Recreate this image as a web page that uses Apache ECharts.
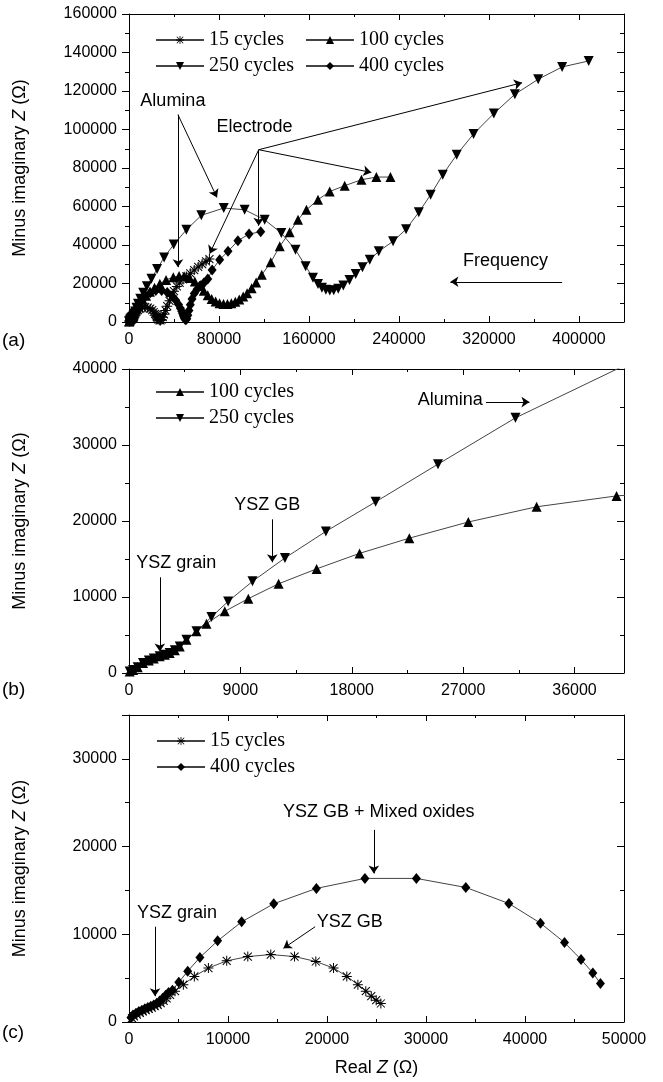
<!DOCTYPE html>
<html>
<head>
<meta charset="utf-8">
<script src="https://cdn.jsdelivr.net/npm/echarts@6/dist/echarts.min.js"></script>
<style>
  html, body { margin: 0; padding: 0; background: #fff; }
  #chart { width: 663px; height: 1082px; }
</style>
</head>
<body>
<div id="chart"></div>
<script>
// ---- data: [Real Z, Minus imaginary Z] in ohm ----
// 15 cycles: YSZ grain + YSZ GB arc (panel c) and alumina tail (panel a)
var arc15 = [[300,450],[500,650],[800,850],[1100,1050],[1400,1200],[1700,1350],[2000,1500],[2300,1650],[2600,1800],[2900,1950],[3200,2150],[3500,2400],[3800,2700],[4150,3100],[4650,3510],[5490,4260],[6600,5200],[8020,6150],[9870,6970],[12000,7460],[14320,7690],[16720,7460],[18870,6900],[20660,6150],[22000,5200],[23120,4260],[23920,3510],[24470,2940],[24970,2490],[25440,2110]];
var tail15 = [[26000,1400],[27000,900],[28000,800],[29000,1300],[30000,2500],[31000,4000],[32500,6000],[34000,8200],[36000,11000],[38000,13500],[40000,16000],[42500,18500],[45000,20300],[48000,22100],[51000,23700],[54500,25300],[58000,27000],[61500,28600],[65000,30100],[68500,31500],[71500,32700]];

// 100 cycles: panel b part and the rest (panel a)
var low100 = [[57,210],[330,400],[700,750],[1130,1320],[1600,1650],[2000,1900],[2480,2190],[2900,2400],[3290,2620],[3700,3000],[4100,3500],[4640,4380],[5450,5480],[6260,6490],[7740,8110],[9640,9780],[12090,11740],[15160,13700],[18630,15740],[22650,17740],[27420,19870],[32940,21870],[39400,23300]];
var tail100 = [[44500,23900],[49000,23800],[54000,22800],[58500,21000],[62500,18800],[66500,16200],[70000,13900],[73500,12000],[77000,10600],[80500,9700],[84000,9300],[87500,9300],[91000,9700],[94500,10500],[98000,11700],[101500,13200],[105000,15000],[109000,17500],[113000,20500],[118000,24500],[126000,31000],[134000,39300],[142800,46600],[150200,53100],[157700,58300],[168000,63500],[178400,67800],[191700,70800],[206600,73900],[219900,75300],[232400,75300]];

// 250 cycles
var low250 = [[57,210],[330,400],[700,750],[1130,1320],[1600,1650],[2000,1900],[2480,2190],[2900,2400],[3290,2620],[3700,3000],[4100,3500],[4640,4380],[5450,5480],[6660,7370],[8010,9420],[9980,12060],[12600,15130],[15910,18630],[19930,22520],[24970,27480],[31230,33570]];
var tail250 = [[39700,40200],[51000,47900],[64300,55400],[84200,59200],[102800,58300],[120600,53100],[135400,46200],[148000,37500],[157000,29000],[163500,23000],[168000,19800],[171500,17800],[175000,16700],[178500,16300],[182000,16500],[186000,17300],[190500,19000],[196000,21800],[201500,25000],[207500,28500],[214000,32300],[222000,36700],[234700,41900],[246300,48200],[257600,57000],[268100,66100],[278900,76500],[291300,86900],[306300,97700],[324300,108300],[343000,118300],[363700,126100],[385000,132500],[408600,135600]];

// 400 cycles: YSZ GB + mixed oxides arc (panel c) and electrode tail (panel a)
var arc400 = [[200,500],[400,800],[700,1000],[1000,1200],[1300,1350],[1600,1500],[1900,1650],[2200,1800],[2500,1950],[2800,2150],[3100,2400],[3400,2700],[3700,3050],[4000,3350],[4390,3620],[5030,4530],[5930,5790],[7160,7350],[8950,9250],[11380,11420],[14620,13480],[18930,15230],[23830,16370],[29030,16370],[34020,15340],[38370,13510],[41560,11270],[43990,9060],[45660,7120],[46850,5600],[47620,4380]];
var tail400 = [[48300,3200],[49000,2200],[49800,1400],[50600,1200],[51400,1700],[52300,3500],[53300,6000],[54500,9000],[56000,12000],[58000,14800],[60500,17000],[63500,18800],[66500,20300],[70000,22300],[73900,27000],[80600,32400],[88000,36700],[96800,42200],[106700,45700],[117100,46900]];

// axes ranges [max, interval] per panel
var xRange = [[440000, 80000], [40000, 9000], [50000, 10000]];
var yRange = [[160000, 20000], [40000, 10000], [35000, 10000]];

// annotation arrows (data coords) and texts
var arrowsA = [[[43500,107700],[43500,28500]],[[43500,107700],[78200,64700]],[[115300,89500],[71700,35500]],[[115300,89500],[115300,50000]],[[115300,89500],[215400,77700]],[[115300,89500],[349400,124300]],[[385000,20900],[285700,20900]]];
var arrowsB = [[[2490,12600],[2490,2830]],[[11580,20220],[11580,14570]],[[28850,35650],[32360,35650]]];
var arrowsC = [[[2630,10860],[2630,2940]],[[18800,10860],[15600,8400]],[[24730,21900],[24730,16940]]];
var notes = [
  [0, "Alumina", 10100, 114600],
  [0, "Electrode", 77700, 101300],
  [0, "Frequency", 296900, 31600],
  [1, "Alumina", 23330, 35870],
  [1, "YSZ GB", 8510, 22090],
  [1, "YSZ grain", 580, 14480],
  [2, "YSZ grain", 800, 12400],
  [2, "YSZ GB", 18970, 11350],
  [2, "YSZ GB + Mixed oxides", 15560, 23900]
];

var asterisk = "path://M9,0L11,0L11,20L9,20Z M0,9L20,9L20,11L0,11Z M1.3,2.7L2.7,1.3L18.7,17.3L17.3,18.7Z M17.3,1.3L18.7,2.7L2.7,18.7L1.3,17.3Z";
var styles = {
  "15 cycles": { symbol: asterisk, symbolSize: 10, rot: 0 },
  "100 cycles": { symbol: "triangle", symbolSize: 10, rot: 0 },
  "250 cycles": { symbol: "triangle", symbolSize: 10, rot: 180 },
  "400 cycles": { symbol: "diamond", symbolSize: [9, 11], rot: 0 }
};

(function() {
  var myChart = echarts.init(document.getElementById("chart"));
  var font = "Liberation Sans";
  var fmt = function(v) { return String(v); };

  var grids = [
    { left: 129, top: 14, width: 495, height: 308 },
    { left: 129, top: 369, width: 495, height: 304 },
    { left: 129, top: 715, width: 495, height: 307 }
  ];

  var xAxes = [], yAxes = [];
  for (var g = 0; g < 3; g++) {
    [false, true].forEach(function(mirror) {
      xAxes.push({
        type: "value", gridIndex: g, min: 0, max: xRange[g][0], interval: xRange[g][1],
        position: mirror ? "top" : "bottom",
        axisLine: { show: true, onZero: false, lineStyle: { color: "#000", width: 1 } },
        axisTick: { show: true, inside: true, length: 6, lineStyle: { color: "#000" } },
        minorTick: { show: true, splitNumber: 2, length: 3, lineStyle: { color: "#000" } },
        splitLine: { show: false },
        axisLabel: { show: !mirror, color: "#000", fontSize: 16, fontFamily: font, margin: 10,
                     showMaxLabel: g === 2, formatter: fmt },
        name: (g === 2 && !mirror) ? "Real {i|Z} (Ω)" : "",
        nameLocation: "middle", nameGap: 37,
        nameTextStyle: { color: "#000", fontSize: 18, fontFamily: font,
                         rich: { i: { fontStyle: "italic", fontSize: 18, fontFamily: font } } }
      });
      yAxes.push({
        type: "value", gridIndex: g, min: 0, max: yRange[g][0], interval: yRange[g][1],
        position: mirror ? "right" : "left",
        axisLine: { show: true, onZero: false, lineStyle: { color: "#000", width: 1 } },
        axisTick: { show: true, inside: mirror, length: 7, lineStyle: { color: "#000" } },
        minorTick: { show: true, splitNumber: 2, length: 4, lineStyle: { color: "#000" } },
        splitLine: { show: false },
        axisLabel: { show: !mirror, color: "#000", fontSize: 16, fontFamily: font, margin: 12,
                     showMaxLabel: g !== 2, formatter: fmt },
        name: mirror ? "" : "Minus imaginary {i|Z} (Ω)",
        nameLocation: "middle", nameGap: 100,
        nameTextStyle: { color: "#000", fontSize: 18, fontFamily: font,
                         rich: { i: { fontStyle: "italic", fontSize: 18, fontFamily: font } } }
      });
    });
  }

  function line(name, g, data, arrows) {
    var st = styles[name];
    var s = {
      name: name, type: "line", xAxisIndex: g * 2, yAxisIndex: g * 2,
      data: data, symbol: st.symbol, symbolSize: st.symbolSize, symbolRotate: st.rot,
      showAllSymbol: true, clip: true,
      itemStyle: { color: "#000" },
      lineStyle: { color: "#444", width: 1 },
      emphasis: { disabled: true }
    };
    if (arrows) {
      s.markLine = {
        silent: true, symbol: ["none", "arrow"], symbolSize: 8,
        lineStyle: { color: "#000", width: 1, type: "solid" },
        label: { show: false }, emphasis: { disabled: true },
        data: arrows.map(function(a) { return [{ coord: a[0] }, { coord: a[1] }]; })
      };
    }
    return s;
  }

  var series = [
    line("15 cycles", 0, arc15.concat(tail15), arrowsA),
    line("100 cycles", 0, low100.concat(tail100)),
    line("250 cycles", 0, low250.concat(tail250)),
    line("400 cycles", 0, arc400.concat(tail400)),
    line("100 cycles", 1, low100.concat(tail100), arrowsB),
    line("250 cycles", 1, low250.concat(tail250)),
    line("15 cycles", 2, arc15, arrowsC),
    line("400 cycles", 2, arc400)
  ];

  function leg(name, left, cy) {
    return {
      data: [name], left: left, top: cy - 11, padding: 0, selectedMode: false,
      itemWidth: 48, itemHeight: 10,
      textStyle: { color: "#000", fontSize: 20, fontFamily: "Liberation Serif" }
    };
  }

  var option = {
    animation: false,
    backgroundColor: "#fff",
    grid: grids,
    xAxis: xAxes,
    yAxis: yAxes,
    legend: [
      leg("15 cycles", 155, 41), leg("100 cycles", 305, 41),
      leg("250 cycles", 155, 67), leg("400 cycles", 305, 67),
      leg("100 cycles", 155, 393), leg("250 cycles", 155, 419),
      leg("15 cycles", 156, 742), leg("400 cycles", 156, 768)
    ],
    series: series
  };
  myChart.setOption(option);

  // annotation texts placed through the axes
  var panelSeries = [0, 4, 6];
  var graphics = notes.map(function(n) {
    var p = myChart.convertToPixel({ seriesIndex: panelSeries[n[0]] }, [n[2], n[3]]);
    return { type: "text", x: p[0], y: p[1],
             style: { text: n[1], fill: "#000", font: "18px " + font, textVerticalAlign: "middle" } };
  });
  [["(a)", 341], ["(b)", 690], ["(c)", 1033]].forEach(function(t) {
    graphics.push({ type: "text", x: 2, y: t[1],
                    style: { text: t[0], fill: "#000", font: "19px " + font, textVerticalAlign: "middle" } });
  });
  myChart.setOption({ graphic: graphics });

  window.addEventListener("resize", function() {
    myChart.resize();
  });
})();
</script>
</body>
</html>
